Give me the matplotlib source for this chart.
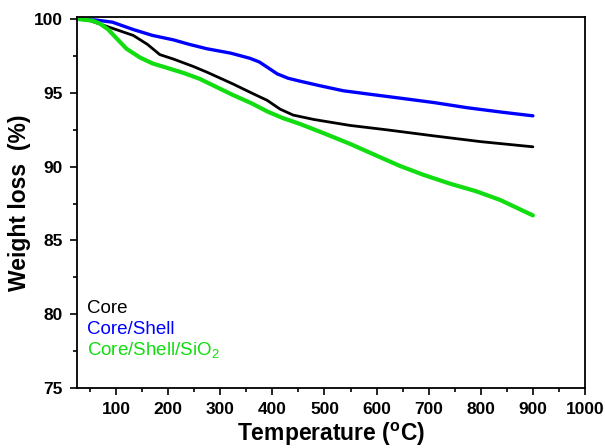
import matplotlib
matplotlib.use("Agg")
import matplotlib.pyplot as plt
from matplotlib.ticker import MultipleLocator

plt.rcParams['font.family'] = 'Liberation Sans'
plt.rcParams['mathtext.fontset'] = 'custom'
plt.rcParams['mathtext.rm'] = 'Liberation Sans'
plt.rcParams['mathtext.bf'] = 'Liberation Sans:bold'

# TGA curves (temperature in C, weight in %)
core_t = [30, 50, 75, 100, 133, 160, 184, 210, 248, 275, 300, 325, 360, 390, 415, 440, 480,
          549, 620, 708, 800, 900]
core_w = [100.0, 99.9, 99.6, 99.3, 98.9, 98.3, 97.6, 97.3, 96.8, 96.4, 96.0, 95.6, 95.0,
          94.5, 93.9, 93.5, 93.2, 92.8, 92.5, 92.1, 91.7, 91.35]

shell_t = [30, 60, 93, 133, 170, 210, 240, 274, 320, 357, 375, 390, 409, 430, 453, 490, 536,
           590, 645, 710, 774, 840, 900]
shell_w = [100.0, 99.95, 99.8, 99.3, 98.9, 98.6, 98.3, 98.0, 97.7, 97.35, 97.1, 96.75, 96.3,
           96.0, 95.8, 95.5, 95.15, 94.9, 94.65, 94.35, 94.0, 93.7, 93.45]

sio2_t = [30, 55, 69, 85, 101, 120, 146, 170, 198, 230, 261, 290, 325, 360, 390, 420, 453,
          500, 549, 600, 645, 690, 741, 790, 837, 870, 900]
sio2_w = [100.0, 99.9, 99.7, 99.3, 98.7, 98.0, 97.4, 97.0, 96.7, 96.35, 95.95, 95.45, 94.85,
          94.3, 93.75, 93.3, 92.9, 92.25, 91.55, 90.75, 90.05, 89.45, 88.85, 88.35, 87.75,
          87.2, 86.7]

series = [
    ("Core", core_t, core_w, 'black', 2.0),
    ("Core/Shell", shell_t, shell_w, '#0000ff', 2.4),
    (r"Core/Shell/SiO$_{\mathrm{2}}$", sio2_t, sio2_w, '#11dd11', 3.0),
]

fig = plt.figure(figsize=(6.05, 4.48), dpi=100)
ax = fig.add_axes([77 / 605, 60 / 448, 508 / 605, 371 / 448])

for label, t, w, colour, lw in series:
    ax.plot(t, w, color=colour, lw=lw, solid_capstyle='round', solid_joinstyle='round')

ax.set_xlim(25, 1000)
ax.set_ylim(75, 100.15)
ax.xaxis.set_major_locator(MultipleLocator(100))
ax.xaxis.set_minor_locator(MultipleLocator(50))
ax.yaxis.set_major_locator(MultipleLocator(5))
ax.yaxis.set_minor_locator(MultipleLocator(2.5))
ax.tick_params(which='both', direction='out', top=False, right=False, width=1.2)
ax.tick_params(which='major', length=5, labelsize=12.5, pad=5)
ax.tick_params(which='minor', length=3)
for lab in ax.get_xticklabels() + ax.get_yticklabels():
    lab.set_fontweight('bold')
for sp in ax.spines.values():
    sp.set_linewidth(1.3)

ax.set_xlabel(r"Temperature ($^{\mathbf{o}}$C)", fontsize=16.5, fontweight='bold', labelpad=2.5)
ax.set_ylabel("Weight loss  (%)", fontsize=16.5, fontweight='bold', labelpad=2)

# Coloured text legend in the lower left corner
for i, (label, t, w, colour, lw) in enumerate(series):
    ax.text(0.02, 0.215 - i * 0.058, label, color=colour, fontsize=13.5,
            transform=ax.transAxes, va='center', ha='left')

fig.savefig("out.png", dpi=100)
